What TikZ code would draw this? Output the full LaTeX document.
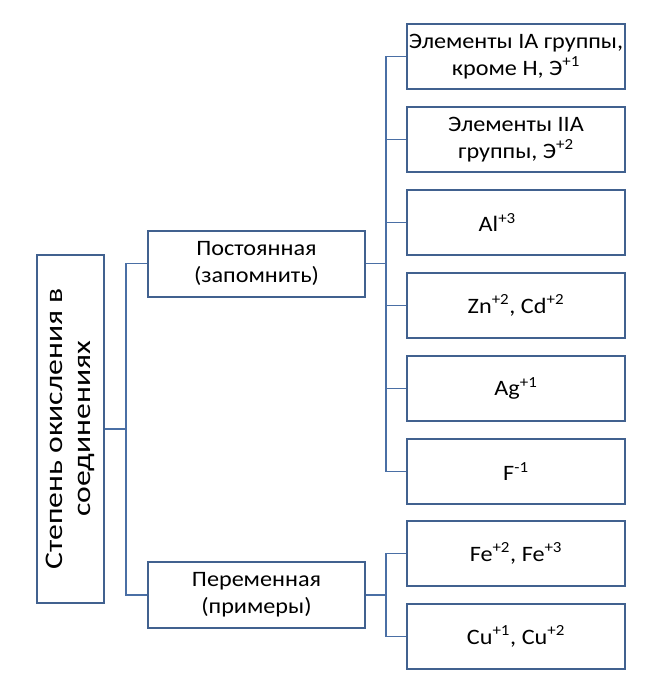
\documentclass[tikz,border=0pt]{standalone}
\usepackage{fontspec}
\setmainfont{Carlito}[FakeStretch=1.1]
\newfontfamily\rotfont{Carlito}[FakeStretch=1.25]
\begin{document}
\begin{tikzpicture}[x=0.75pt,y=-0.75pt,
  box/.style={draw=boxc,line width=1.5pt,fill=white,inner sep=0pt,align=center,font=\fontsize{16.5}{20}\selectfont},
  rbox/.style={box,minimum width=218*0.75pt,minimum height=65*0.75pt},
  mbox/.style={box,minimum width=217*0.75pt,minimum height=66*0.75pt},
  link/.style={draw=linec,line width=1.2pt}]
\definecolor{boxc}{HTML}{41618F}
\definecolor{linec}{HTML}{4A6FA5}
\useasboundingbox (0,0) rectangle (653,697);
\node[box,minimum width=67*0.75pt,minimum height=348*0.75pt] (root) at (70.5,429) {};
\node[rotate=90,align=center,font=\rotfont\fontsize{19}{21}\selectfont] (roottext) at (root.center) {Степень окисления в\\соединениях};
\node[mbox] (const) at (256.5,263.5) {Постоянная\\(запомнить)};
\node[mbox] (var) at (256.5,595) {Переменная\\(примеры)};
\node[rbox] (r1) at (516,56.5) {Элементы IA группы,\\кроме Н, Э\textsuperscript{+1}};
\node[rbox] (r2) at (516,139.5) {Элементы IIA\\группы, Э\textsuperscript{+2}};
\node[rbox] (r3) at (516,222.5) {Al\textsuperscript{+3}\hspace*{28pt}};
\node[rbox] (r4) at (516,305.5) {Zn\textsuperscript{+2}, Cd\textsuperscript{+2}};
\node[rbox] (r5) at (516,388.5) {Ag\textsuperscript{+1}};
\node[rbox] (r6) at (516,471.5) {F\textsuperscript{-1}};
\node[rbox] (r7) at (516,553.5) {Fe\textsuperscript{+2}, Fe\textsuperscript{+3}};
\node[rbox] (r8) at (516,636.5) {Cu\textsuperscript{+1}, Cu\textsuperscript{+2}};
\coordinate (t1) at (126,0);
\coordinate (t2) at (386,0);
\draw[link] (root.east) -- (root.east -| t1);
\draw[link] (const.west) -- (const.west -| t1) -- (var.west -| t1) -- (var.west);
\draw[link] (const.east) -- (const.east -| t2);
\draw[link] (r1.west) -- (r1.west -| t2) -- (r6.west -| t2) -- (r6.west);
\foreach \n in {r2,r3,r4,r5} \draw[link] (\n.west -| t2) -- (\n.west);
\draw[link] (var.east) -- (var.east -| t2);
\draw[link] (r7.west) -- (r7.west -| t2) -- (r8.west -| t2) -- (r8.west);
\end{tikzpicture}
\end{document}
